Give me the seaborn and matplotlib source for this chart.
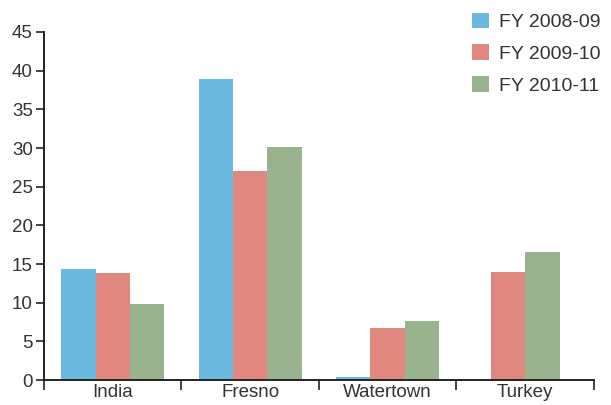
import matplotlib
matplotlib.use("Agg")
import matplotlib.pyplot as plt
import seaborn as sns
import pandas as pd
import numpy as np

categories = ["India", "Fresno", "Watertown", "Turkey"]
series = ["FY 2008-09", "FY 2009-10", "FY 2010-11"]
fy0809 = [14.3, 38.9, 0.4, np.nan]
fy0910 = [13.8, 27.0, 6.7, 14.0]
fy1011 = [9.8, 30.1, 7.6, 16.5]
yticks = [0, 5, 10, 15, 20, 25, 30, 35, 40, 45]

colors = ["#6BB9DF", "#E1887E", "#9AB38F"]

rows = []
for s, vals in zip(series, [fy0809, fy0910, fy1011]):
    for c, v in zip(categories, vals):
        rows.append({"cat": c, "series": s, "value": v})
df = pd.DataFrame(rows).dropna()

# categories where every series has a value vs. those with missing series
full_cats = [c for c in categories if (df["cat"] == c).sum() == len(series)]
part_cats = [c for c in categories if c not in full_cats]

sns.set_style("white")
plt.rcParams["font.family"] = ["Liberation Sans", "DejaVu Sans"]

fig = plt.figure(figsize=(6.11, 4.05), dpi=100)
ax = fig.add_axes([0.0720, 0.0617, 0.9000, 0.8593])

sns.barplot(data=df[df["cat"].isin(full_cats)], x="cat", y="value", hue="series",
            order=categories, hue_order=series, palette=colors, width=0.75,
            saturation=1, ax=ax, errorbar=None, linewidth=0, edgecolor="none")

# categories with missing series: remaining bars centred in the slot
for c in part_cats:
    sub = df[df["cat"] == c]
    present = [s for s in series if s in set(sub["series"])]
    pal = [colors[series.index(s)] for s in present]
    sns.barplot(data=sub, x="cat", y="value", hue="series", order=categories,
                hue_order=present, palette=pal,
                width=0.75 * len(present) / len(series), saturation=1, ax=ax,
                errorbar=None, linewidth=0, edgecolor="none", legend=False)

ax.set_xlim(-0.5, 3.5)
ax.set_ylim(0, 45)
ax.set_yticks(yticks)
ax.set_yticklabels([str(t) for t in yticks])
ax.set_xlabel("")
ax.set_ylabel("")

for side in ["top", "right"]:
    ax.spines[side].set_visible(False)
for side in ["left", "bottom"]:
    ax.spines[side].set_color("#222222")
    ax.spines[side].set_linewidth(1.4)

ax.tick_params(axis="y", which="major", direction="out", length=6, width=1.2,
               color="#222222", labelsize=13.5, labelcolor="#333333", pad=2, left=True)
ax.tick_params(axis="x", which="major", length=0, labelsize=13.5,
               labelcolor="#333333", pad=3, bottom=True)
ax.set_xticks([-0.5, 0.5, 1.5, 2.5, 3.5], minor=True)
ax.tick_params(axis="x", which="minor", direction="out", length=7, width=1.2,
               color="#222222", bottom=True)

handles, labels = ax.get_legend_handles_labels()
leg = ax.legend(handles[:len(series)], labels[:len(series)], loc="upper left",
                bbox_to_anchor=(0.765, 1.078), frameon=False,
                fontsize=14, handlelength=0.85, handleheight=0.85,
                handletextpad=0.5, labelspacing=0.68, borderaxespad=0)
for t in leg.get_texts():
    t.set_color("#333333")

fig.savefig("out.png", dpi=100)
